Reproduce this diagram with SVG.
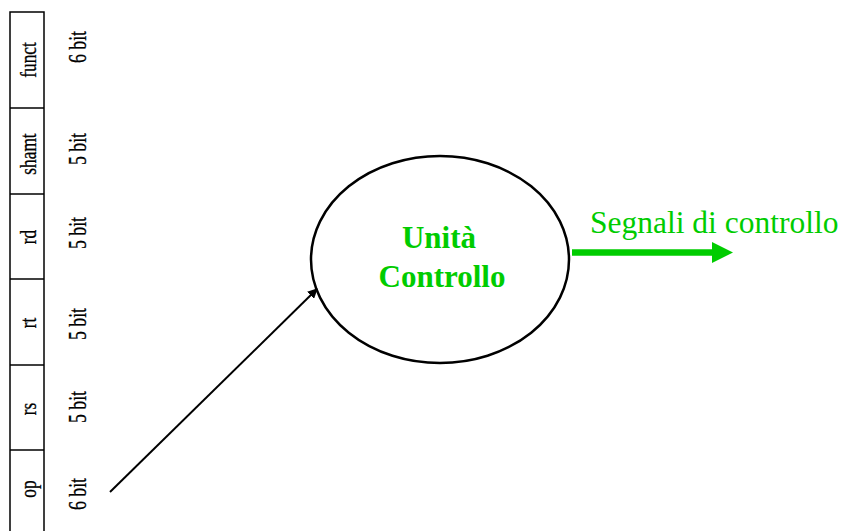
<svg xmlns="http://www.w3.org/2000/svg" width="847" height="531" viewBox="0 0 847 531">
<defs>
<style>
.fld{font-family:"Liberation Serif","Times New Roman",serif;font-size:24px;fill:#000;text-anchor:middle;stroke:#000;stroke-width:0.3}
.bit{font-family:"Liberation Serif","Times New Roman",serif;font-size:25px;fill:#000;text-anchor:middle;stroke:#000;stroke-width:0.3}
.box{fill:none;stroke:#000;stroke-width:1.5}
.green{font-family:"Liberation Serif","Times New Roman",serif;fill:#00CC00}
</style>
<marker id="ah" viewBox="0 0 10 10" refX="9" refY="5" markerWidth="10" markerHeight="10" markerUnits="userSpaceOnUse" orient="auto">
<path d="M0,0 L10,5 L0,10 z" fill="#000"/>
</marker>
</defs>
<rect width="847" height="531" fill="#fff"/>
<g id="instruction">
<rect class="box" x="10" y="12" width="34" height="530"/>
<line class="box" x1="10" y1="108" x2="44" y2="108"/>
<line class="box" x1="10" y1="194" x2="44" y2="194"/>
<line class="box" x1="10" y1="279" x2="44" y2="279"/>
<line class="box" x1="10" y1="365" x2="44" y2="365"/>
<line class="box" x1="10" y1="450" x2="44" y2="450"/>
<text class="fld" transform="translate(36,60) rotate(-90) scale(0.72,1)">funct</text>
<text class="fld" transform="translate(36,154) rotate(-90) scale(0.72,1)">shamt</text>
<text class="fld" transform="translate(36,237) rotate(-90) scale(0.72,1)">rd</text>
<text class="fld" transform="translate(36,323) rotate(-90) scale(0.72,1)">rt</text>
<text class="fld" transform="translate(36,409) rotate(-90) scale(0.72,1)">rs</text>
<text class="fld" transform="translate(36,489) rotate(-90) scale(0.72,1)">op</text>
<text class="bit" transform="translate(86,47) rotate(-90) scale(0.71,1)">6 bit</text>
<text class="bit" transform="translate(86,149) rotate(-90) scale(0.71,1)">5 bit</text>
<text class="bit" transform="translate(86,233) rotate(-90) scale(0.71,1)">5 bit</text>
<text class="bit" transform="translate(86,324) rotate(-90) scale(0.71,1)">5 bit</text>
<text class="bit" transform="translate(86,407) rotate(-90) scale(0.71,1)">5 bit</text>
<text class="bit" transform="translate(86,494) rotate(-90) scale(0.71,1)">6 bit</text>
</g>
<g id="control-unit">
<ellipse cx="440" cy="259.5" rx="129" ry="103.5" fill="#fff" stroke="#000" stroke-width="2.5"/>
<text class="green" x="439" y="248" font-size="31" font-weight="bold" text-anchor="middle">Unità</text>
<text class="green" x="442" y="287" font-size="31" font-weight="bold" text-anchor="middle">Controllo</text>
</g>
<g id="signals-label">
<text class="green" x="590" y="233" font-size="31.5">Segnali di controllo</text>
</g>
<g id="connectors">
<line x1="110" y1="492" x2="317" y2="289" stroke="#000" stroke-width="2" marker-end="url(#ah)"/>
<line x1="572" y1="252.5" x2="714" y2="252.5" stroke="#00CC00" stroke-width="6.5"/>
<path d="M712,242 L733,252.5 L712,263 z" fill="#00CC00"/>
</g>
</svg>
